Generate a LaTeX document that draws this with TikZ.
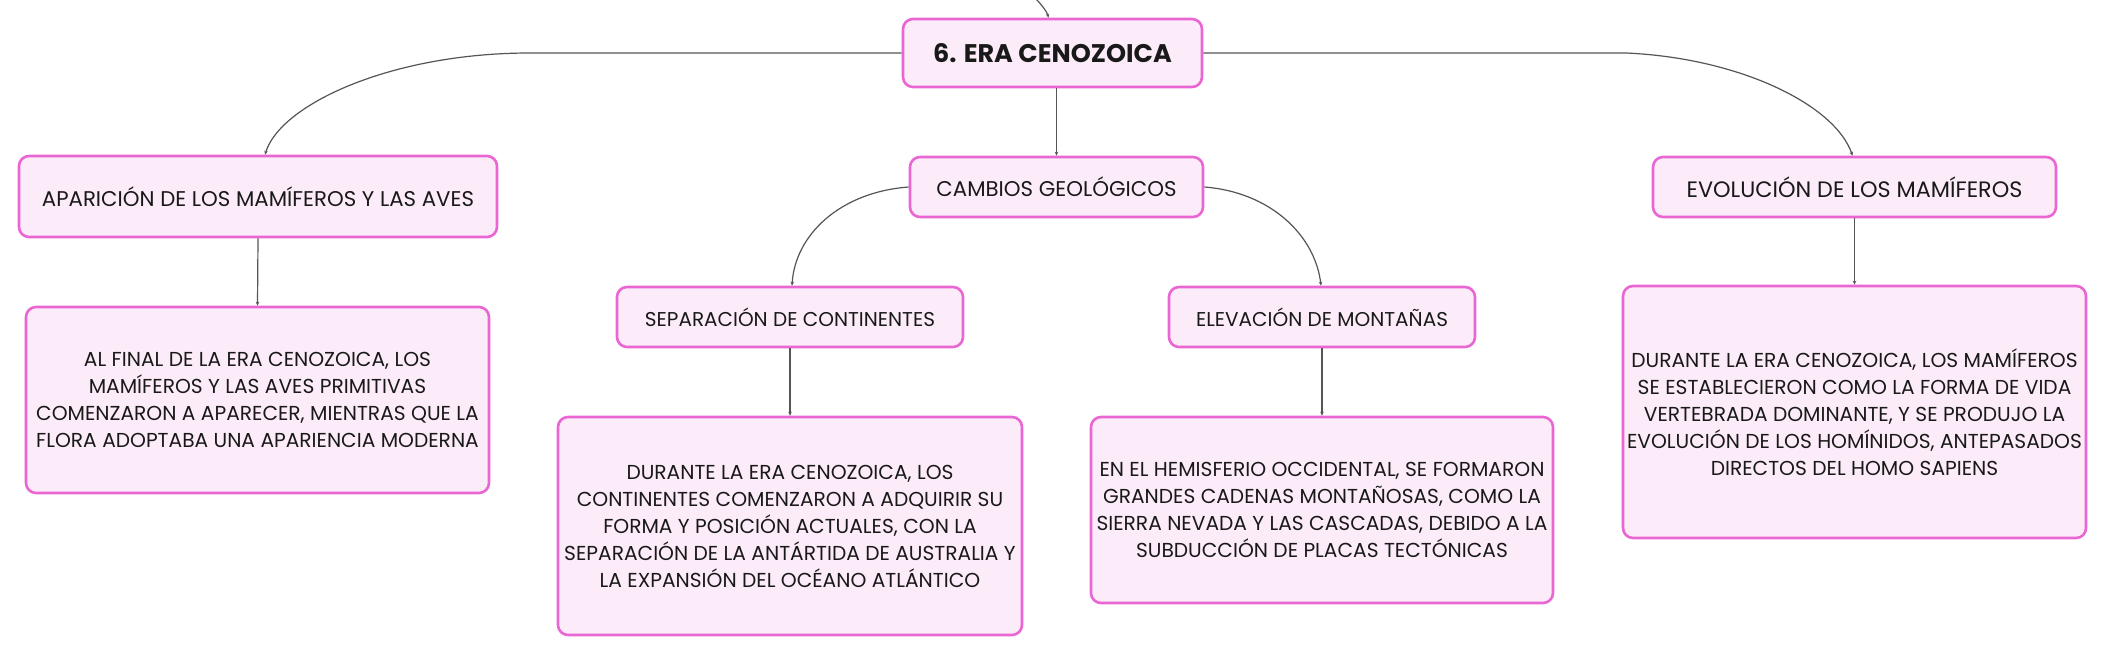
\documentclass[tikz,border=0pt]{standalone}
\usepackage{fontspec}
\setmainfont{Poppins}
\usetikzlibrary{arrows.meta,calc}
\definecolor{boxfill}{RGB}{252,236,249}
\definecolor{boxline}{RGB}{234,102,210}
\definecolor{conn}{RGB}{85,85,85}
\definecolor{txt}{RGB}{25,25,25}
\begin{document}
\begin{tikzpicture}[x=1pt,y=-1pt,
  box/.style={draw=boxline, fill=boxfill, line width=2.6pt, rounded corners=10pt, inner sep=0pt, align=center, text=txt},
  title/.style={box, font=\fontsize{25.5}{30}\selectfont\bfseries},
  head/.style={box, font=\fontsize{20}{24}\selectfont},
  bighead/.style={box, font=\fontsize{21.3}{26}\selectfont},
  hugehead/.style={box, font=\fontsize{22.3}{26}\selectfont},
  body/.style={box, font=\fontsize{20.2}{27}\selectfont},
  link/.style={draw=conn, line width=1.2pt, -{Stealth[length=4pt,width=3.5pt]}}
]
\useasboundingbox (0,0) rectangle (2106,656);
\fill[white] (0,0) rectangle (2106,656);

\node[title, minimum width=299pt, minimum height=68pt] (main) at (1052.5,53) {6. ERA CENOZOICA};
\node[bighead, minimum width=293pt, minimum height=60pt] (cambios) at (1056.5,187) {CAMBIOS GEOLÓGICOS};
\node[bighead, minimum width=478pt, minimum height=81pt] (apar) at (258,196.5) {APARICIÓN DE LOS MAMÍFEROS Y LAS AVES};
\node[body, minimum width=463pt, minimum height=186pt] (aparT) at (257.5,400) {AL FINAL DE LA ERA CENOZOICA, LOS\\MAMÍFEROS Y LAS AVES PRIMITIVAS\\COMENZARON A APARECER, MIENTRAS QUE LA\\FLORA ADOPTABA UNA APARIENCIA MODERNA};
\node[head, minimum width=346pt, minimum height=60pt] (sep) at (790,317) {SEPARACIÓN DE CONTINENTES};
\node[body, minimum width=464pt, minimum height=218pt] (sepT) at (790,526) {DURANTE LA ERA CENOZOICA, LOS\\CONTINENTES COMENZARON A ADQUIRIR SU\\FORMA Y POSICIÓN ACTUALES, CON LA\\SEPARACIÓN DE LA ANTÁRTIDA DE AUSTRALIA Y\\LA EXPANSIÓN DEL OCÉANO ATLÁNTICO};
\node[head, minimum width=306pt, minimum height=60pt] (elev) at (1322,317) {ELEVACIÓN DE MONTAÑAS};
\node[body, minimum width=462pt, minimum height=186pt] (elevT) at (1322,510) {EN EL HEMISFERIO OCCIDENTAL, SE FORMARON\\GRANDES CADENAS MONTAÑOSAS, COMO LA\\SIERRA NEVADA Y LAS CASCADAS, DEBIDO A LA\\SUBDUCCIÓN DE PLACAS TECTÓNICAS};
\node[hugehead, minimum width=403pt, minimum height=60pt] (evol) at (1854.5,187) {EVOLUCIÓN DE LOS MAMÍFEROS};
\node[body, minimum width=463pt, minimum height=252pt] (evolT) at (1854.5,412) {DURANTE LA ERA CENOZOICA, LOS MAMÍFEROS\\SE ESTABLECIERON COMO LA FORMA DE VIDA\\VERTEBRADA DOMINANTE, Y SE PRODUJO LA\\EVOLUCIÓN DE LOS HOMÍNIDOS, ANTEPASADOS\\DIRECTOS DEL HOMO SAPIENS};

\coordinate (topin) at (1035,-2);
\coordinate (mainIn) at ($(main.north)+(-4,0)$);
\coordinate (aparIn) at ($(apar.north)+(7,0)$);
\coordinate (evolIn) at ($(evol.north)+(-2,0)$);
\coordinate (sepIn) at ($(sep.north)+(2,0)$);
\coordinate (elevIn) at ($(elev.north)+(-1,0)$);
\coordinate (lbend) at (530,53);
\coordinate (rbend) at (1626,53);

\draw[link] (topin) .. controls (1042,5) and (1047,12) .. (mainIn);
\draw[link] (main.west) -- (lbend) .. controls (390,53) and (280,105) .. (aparIn);
\draw[link] (main.east) -- (rbend) .. controls (1740,58) and (1835,105) .. (evolIn);
\draw[link] (cambios.north |- main.south) -- (cambios.north);
\draw[link] (cambios.west) .. controls (840,192) and (795,235) .. (sepIn);
\draw[link] (cambios.east) .. controls (1270,192) and (1315,235) .. (elevIn);
\draw[link] (apar.south) -- (aparT.north);
\draw[link] (sep.south) -- (sepT.north);
\draw[link] (elev.south) -- (elevT.north);
\draw[link] (evol.south) -- (evolT.north);
\end{tikzpicture}
\end{document}
